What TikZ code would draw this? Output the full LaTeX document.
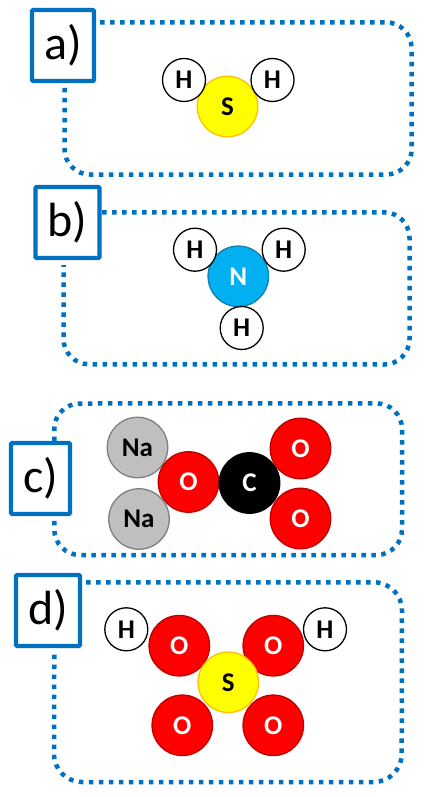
\documentclass[tikz,border=0pt]{standalone}
\usepackage{fontspec}
\setmainfont{Carlito}
\definecolor{frameblue}{HTML}{0070C0}
\definecolor{sfill}{HTML}{FFFF00}
\definecolor{sedge}{HTML}{FFC000}
\definecolor{nfill}{HTML}{00B0F0}
\definecolor{nedge}{HTML}{0F7FB5}
\definecolor{nafill}{HTML}{BFBFBF}
\definecolor{naedge}{HTML}{7F7F7F}
\definecolor{oedge}{HTML}{C00000}
\newcommand{\tagtext}[1]{\raisebox{-2pt}{#1}}
\tikzset{
  atom/.style={circle,inner sep=0pt,outer sep=0pt,font=\fontsize{27}{27}\selectfont\bfseries},
  hatom/.style={atom,minimum size=43pt,fill=white,draw=black,line width=1.3pt},
  satom/.style={atom,minimum size=60.5pt,fill=sfill,draw=sedge,line width=1.3pt},
  natom/.style={atom,minimum size=60.5pt,fill=nfill,draw=nedge,line width=1.3pt,text=white},
  naatom/.style={atom,minimum size=60.5pt,fill=nafill,draw=naedge,line width=1.3pt},
  oatom/.style={atom,minimum size=60.5pt,fill=red,draw=oedge,line width=1.3pt,text=white},
  catom/.style={atom,minimum size=60.5pt,fill=black,draw=black,line width=1.3pt,text=white},
  tagbox/.style={draw=frameblue,line width=4.2pt,fill=white,rounded corners=1pt,inner sep=0pt,
    minimum height=71pt,font=\fontsize{48}{48}\selectfont},
  frameline/.style={draw=frameblue,line width=4.5pt,dash pattern=on 4.5pt off 5.5pt}
}
\begin{document}
\begin{tikzpicture}[x=1pt,y=-1pt]
\useasboundingbox (0,0) rectangle (432,797);
% a
\node[tagbox,minimum width=62pt] (ta) at (63,45.5) {\tagtext{a)}};
\coordinate (a1) at (100,22.3);
\coordinate (a2) at (64.5,87);
\draw[frameline] (a1) -- (386,22.3) arc[start angle=-90,end angle=0,radius=25.5] -- (411.7,149) arc[start angle=0,end angle=90,radius=25.5] -- (90,174.5) arc[start angle=90,end angle=180,radius=25.5] -- (a2);
\node[satom] (as) at (227.5,106.5) {S};
\node[hatom] (ah1) at (184,80) {H};
\node[hatom] (ah2) at (272.5,80) {H};
% b
\node[tagbox,minimum width=64pt] (tb) at (67.5,222.5) {\tagtext{b)}};
\coordinate (b1) at (102,212.3);
\coordinate (b2) at (63.5,265);
\draw[frameline] (b1) -- (384,212.3) arc[start angle=-90,end angle=0,radius=25.5] -- (409.5,339) arc[start angle=0,end angle=90,radius=25.5] -- (89,364.3) arc[start angle=90,end angle=180,radius=25.5] -- (b2);
\node[natom] (bn) at (238.3,276.3) {N};
\node[hatom] (bh1) at (195,249.7) {H};
\node[hatom] (bh2) at (283.7,249.7) {H};
\node[hatom] (bh3) at (241.7,328) {H};
% c
\coordinate (c1) at (54.3,441);
\coordinate (c2) at (54.3,519);
\draw[frameline] (c1) -- (54.3,429) arc[start angle=180,end angle=270,radius=25.5] -- (376.5,403.4) arc[start angle=-90,end angle=0,radius=25.5] -- (402,529.5) arc[start angle=0,end angle=90,radius=25.5] -- (79.8,555) arc[start angle=90,end angle=180,radius=25.5] -- (c2);
\node[tagbox,minimum width=59pt] (tc) at (40.5,478.5) {\tagtext{c)}};
\node[naatom] (cna1) at (137.5,447.5) {Na};
\node[naatom] (cna2) at (139,519) {Na};
\node[oatom] (co1) at (188.5,482) {O};
\node[catom] (cc) at (249.5,483) {C};
\node[oatom] (co2) at (300.5,448.5) {O};
\node[oatom] (co3) at (300.5,518.5) {O};
% d
\coordinate (d1) at (86,582.3);
\coordinate (d2) at (54.3,650);
\draw[frameline] (d1) -- (374,582.3) arc[start angle=-90,end angle=0,radius=28] -- (401.7,754) arc[start angle=0,end angle=90,radius=28] -- (82,782) arc[start angle=90,end angle=180,radius=28] -- (d2);
\node[tagbox,minimum width=64pt] (td) at (48,610.5) {\tagtext{d)}};
\node[oatom] (do1) at (179.3,645.7) {O};
\node[oatom] (do2) at (273.3,645.7) {O};
\node[oatom] (do3) at (182.3,725.3) {O};
\node[oatom] (do4) at (273.3,725.3) {O};
\node[satom] (ds) at (228.3,682.3) {S};
\node[hatom] (dh1) at (126.3,629.3) {H};
\node[hatom] (dh2) at (325,629.3) {H};
\end{tikzpicture}
\end{document}
